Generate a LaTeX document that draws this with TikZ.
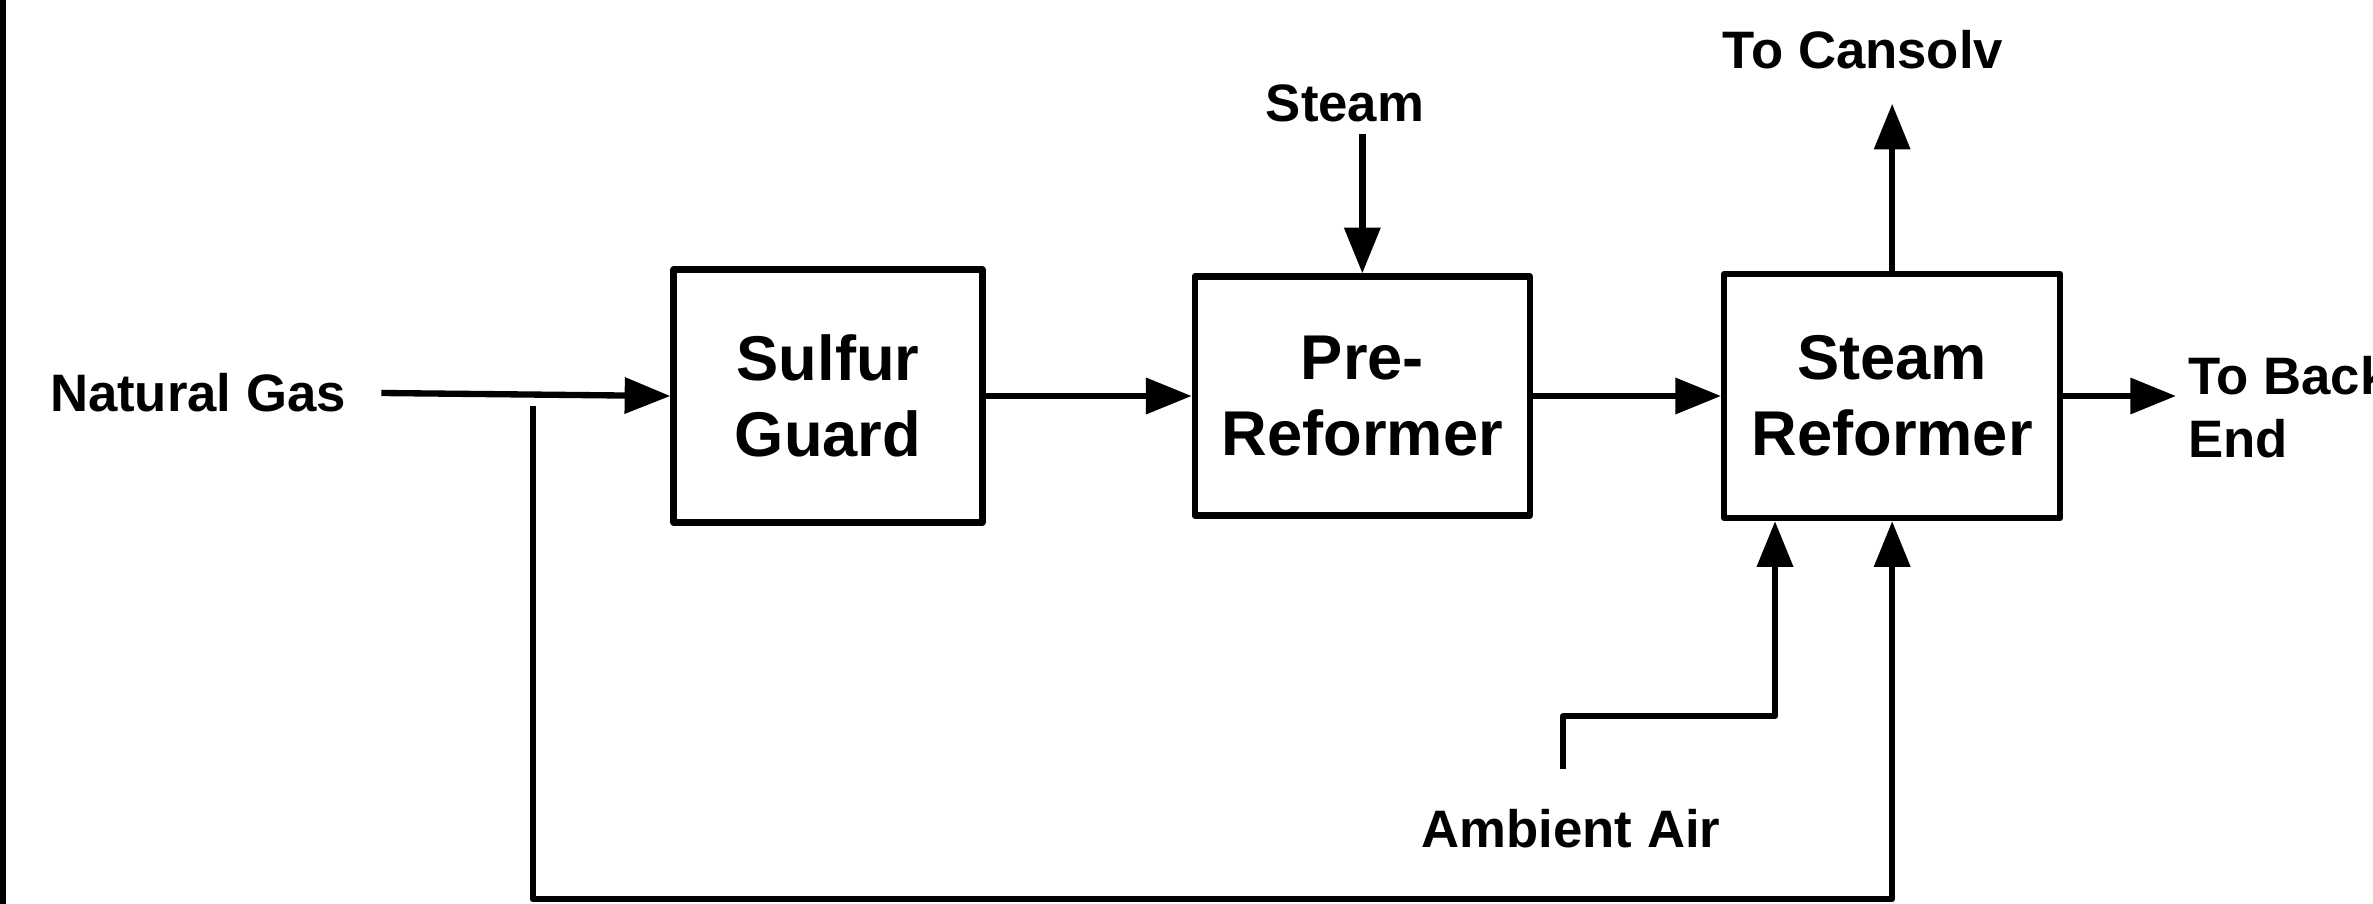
\documentclass[tikz,border=0pt]{standalone}
\usepackage{fontspec}
\setmainfont{Liberation Sans}
\usetikzlibrary{positioning,arrows.meta}

\begin{document}
\begin{tikzpicture}[
    unit/.style={draw, line width=1.8pt, line join=round, align=center, font=\fontsize{18}{21.6}\selectfont\bfseries},
    stream/.style={align=left, font=\fontsize{15}{18}\selectfont\bfseries},
    flow/.style={-{Triangle[length=13pt, width=10pt]}, line width=1.8pt, line join=round},
    pipe/.style={line width=1.8pt, line join=round}]
    \useasboundingbox (0,0) rectangle (23.73,-9.04);
    % Frame edge
    \draw[pipe] (0.03,0) -- (0.03,-9.04);

    % Units
    \node[unit, minimum width=3.09cm, minimum height=2.53cm] (guard) at (8.28,-3.96) {Sulfur\\Guard};
    \node[unit, minimum width=3.35cm, minimum height=2.39cm, right=2.06cm of guard] (prereformer) {Pre-\\Reformer};
    \node[unit, minimum width=3.36cm, minimum height=2.44cm, right=1.88cm of prereformer] (reformer) {Steam\\Reformer};

    % Streams
    \node[stream] (gas) at (1.98,-3.93) {Natural Gas};
    \node[stream] (steam) at (13.45,-1.03) {Steam};
    \node[stream] (cansolv) at (18.63,-0.50) {To Cansolv};
    \node[stream, anchor=west] (backend) at (21.76,-4.07) {To Back\\End};
    \node[stream] (air) at (15.71,-8.29) {Ambient Air};
    \coordinate (recycle) at (5.33,-4.06);
    \coordinate (recyclebottom) at (5.33,-8.99);

    % Arrows
    \draw[flow] ([xshift=0.23cm]gas.east) -- (guard.west);
    \draw[flow] (guard.east) -- (prereformer.west);
    \draw[flow] (prereformer.east) -- (reformer.west);
    \draw[flow] (prereformer.north |- steam.south) -- (prereformer.north);
    \draw[flow, shorten >=0.22cm] (reformer.north) -- (reformer.north |- cansolv.south);
    \draw[flow] (reformer.east) -- (reformer.east -| backend.west);
    \draw[flow] ([shift={(-0.08,0.28)}]air.north) -- ++(0,0.53) -| ([xshift=0.54cm]reformer.south west);
    \draw[flow] (recycle) -- (recyclebottom) -| (reformer.south);
\end{tikzpicture}
\end{document}
